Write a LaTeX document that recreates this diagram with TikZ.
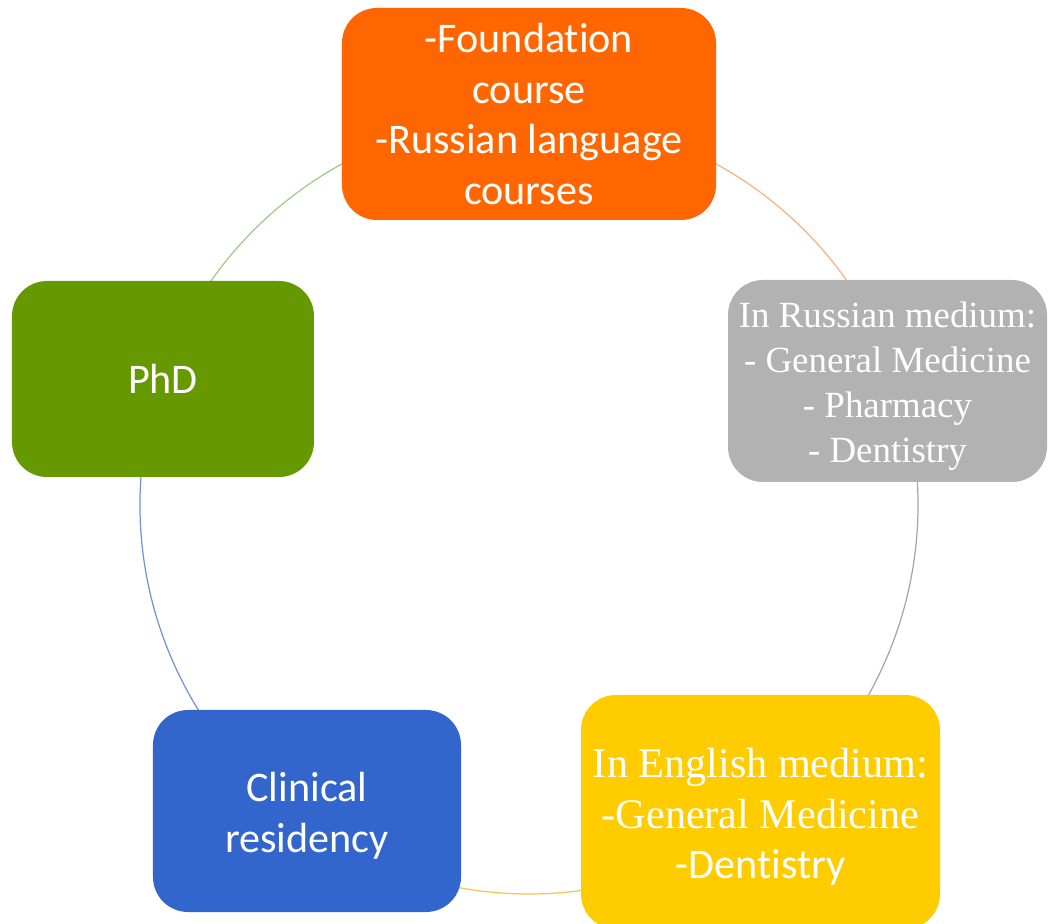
\documentclass[tikz,border=0pt]{standalone}
\usepackage{fontspec}
\setsansfont[Ligatures=NoCommon]{Carlito}
\newfontfamily\timesfont{Liberation Serif}
\usepackage{xcolor}
\definecolor{orangebox}{HTML}{FF6600}
\definecolor{graybox}{HTML}{B2B2B2}
\definecolor{yellowbox}{HTML}{FFCC00}
\definecolor{bluebox}{HTML}{3366CC}
\definecolor{greenbox}{HTML}{669900}
\definecolor{arcorange}{HTML}{F4B183}
\definecolor{arcgray}{HTML}{A6A6A6}
\definecolor{arcyellow}{HTML}{F7C548}
\definecolor{arcblue}{HTML}{7392D4}
\definecolor{arcgreen}{HTML}{9CCB86}

\begin{document}
\begin{tikzpicture}[
    box/.style={rounded corners=0.7cm, inner sep=0pt},
    boxtext/.style={text=white, align=center, inner sep=0pt,
        font=\sffamily\fontsize{24}{28.8}\selectfont},
    ring/.style={line width=0.7pt}]
    \useasboundingbox (-10.58,-8.38) rectangle (10.44,10.10);
    \coordinate (c) at (0,0);
    \def\R{7.78}
    % ring behind the boxes
    \draw[ring, arcorange] (c) ++(90:\R) arc[start angle=90, end angle=18, radius=\R];
    \draw[ring, arcgray] (c) ++(18:\R) arc[start angle=18, end angle=-54, radius=\R];
    \draw[ring, arcyellow] (c) ++(-54:\R) arc[start angle=-54, end angle=-126, radius=\R];
    \draw[ring, arcblue] (c) ++(-126:\R) arc[start angle=-126, end angle=-198, radius=\R];
    \draw[ring, arcgreen] (c) ++(162:\R) arc[start angle=162, end angle=90, radius=\R];
    % boxes
    \node[box, fill=orangebox, minimum width=7.48cm, minimum height=4.24cm] (found) at (0,7.82) {};
    \node[box, fill=graybox, minimum width=6.38cm, minimum height=4.04cm] (russ) at (7.17,2.48) {};
    \node[box, fill=yellowbox, minimum width=7.18cm, minimum height=4.68cm] (engl) at (4.63,-6.14) {};
    \node[box, fill=bluebox, minimum width=6.16cm, minimum height=4.04cm] (resid) at (-4.44,-6.12) {};
    \node[box, fill=greenbox, minimum width=6.04cm, minimum height=3.92cm] (phd) at (-7.32,2.52) {};
    % texts
    \node[boxtext] (found text) at (found.center) {-Foundat\kern0pt ion\\course\\-Russian language\\courses};
    \node[boxtext, font=\timesfont\fontsize{21}{25.6}\selectfont] (russ text)
        at ([yshift=-0.11cm]russ.center) {In Russian medium:\\- General Medicine\\- Pharmacy\\- Dentistry};
    \node[boxtext] (engl text) at ([yshift=-0.1cm]engl.center)
        {{\timesfont In English medium:}\\{\timesfont -General Medicine}\\-Dentistry};
    \node[boxtext] (resid text) at ([yshift=-0.1cm]resid.center) {Clinical\\residency};
    \node[boxtext] (phd text) at (phd.center) {PhD};
\end{tikzpicture}
\end{document}
